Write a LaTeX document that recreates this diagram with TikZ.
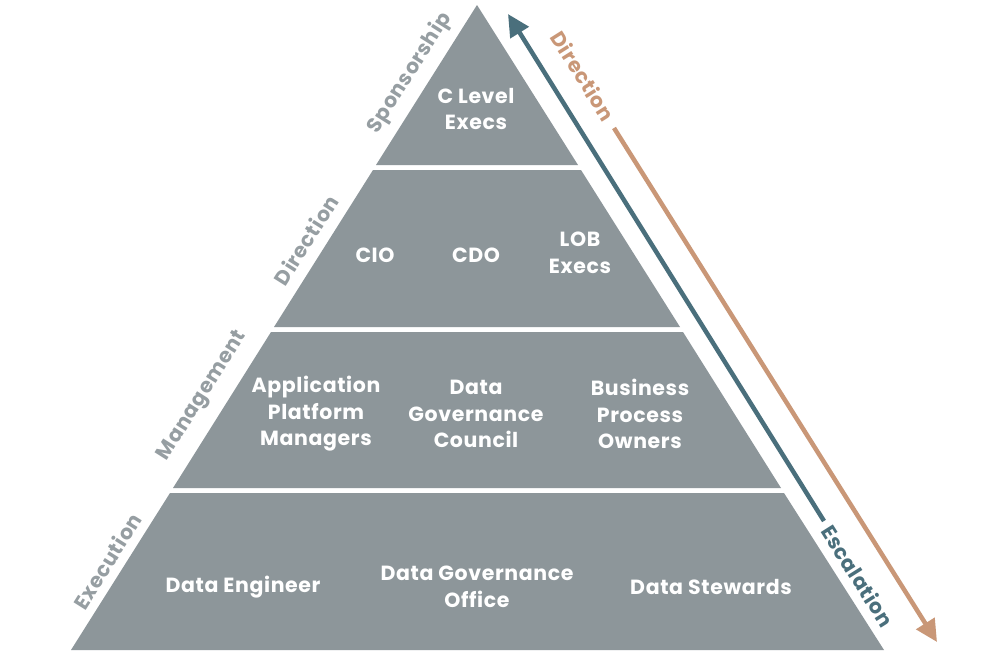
\documentclass[tikz,border=0pt]{standalone}
\usepackage{fontspec}
\setmainfont{Poppins}[LetterSpace=3]
\usetikzlibrary{arrows.meta}
\definecolor{pyr}{RGB}{141,150,154}
\definecolor{lbl}{RGB}{150,158,162}
\definecolor{esc}{RGB}{74,111,124}
\definecolor{dir}{RGB}{201,151,119}
\tikzset{
  band/.style={fill=pyr, draw=none},
  intext/.style={text=white, font=\bfseries\fontsize{20.5}{26.5}\selectfont, align=center, inner sep=0pt},
  sidelbl/.style={text=lbl, font=\bfseries\fontsize{20.5}{24}\selectfont, inner sep=0pt, rotate=57.8},
  arrlbl/.style={font=\bfseries\fontsize{20.5}{24}\selectfont, inner sep=0pt, rotate=-57.8},
  bigarrow/.style={line width=4.5pt, -{Triangle[length=22pt,width=21pt]}},
}
\begin{document}
\begin{tikzpicture}[x=1pt,y=-1pt]
\useasboundingbox (0,0) rectangle (1000,659);
\fill[white] (0,0) rectangle (1000,659);
% bands
\path[band] (477,5) -- (578,165) -- (376,165) -- cycle;
\path[band] (373,170) -- (581,170) -- (680,327) -- (274,327) -- cycle;
\path[band] (271,332) -- (683,332) -- (781,488) -- (173,488) -- cycle;
\path[band] (170,493) -- (784,493) -- (884,650) -- (71,650) -- cycle;
% inner texts
\node[intext] (clevel) at (476,109) {C Level\\Execs};
\node[intext] (cio) at (375,255) {CIO};
\node[intext] (cdo) at (476,255) {CDO};
\node[intext] (lob) at (580,253) {LOB\\Execs};
\node[intext] (apm) at (316,414) {Application\\Platform\\Managers};
\node[intext] (dgc) at (476,414) {Data\\Governance\\Council};
\node[intext] (bpo) at (640,414) {Business\\Process\\Owners};
\node[intext] (de) at (243,587) {Data Engineer};
\node[intext] (dgo) at (477,587) {Data Governance\\Office};
\node[intext] (ds) at (711,587) {Data Stewards};
% side labels
\node[sidelbl] (spons) at (410,73) {Sponsorship};
\node[sidelbl] (dirl) at (306,240) {Direction};
\node[sidelbl] (mgmt) at (203,396) {Management};
\node[sidelbl] (exec) at (107,561) {Execution};
% arrows
\coordinate (escstart) at (824,521);
\coordinate (escend) at (508,14);
\coordinate (dirstart) at (614,128);
\coordinate (dirend) at (937,642);
\draw[bigarrow, esc] (escstart) -- (escend);
\draw[bigarrow, dir] (dirstart) -- (dirend);
\node[arrlbl, text=dir] (dirr) at (583,76) {Direction};
\node[arrlbl, text=esc] (escl) at (858,576) {Escalation};
\end{tikzpicture}
\end{document}
